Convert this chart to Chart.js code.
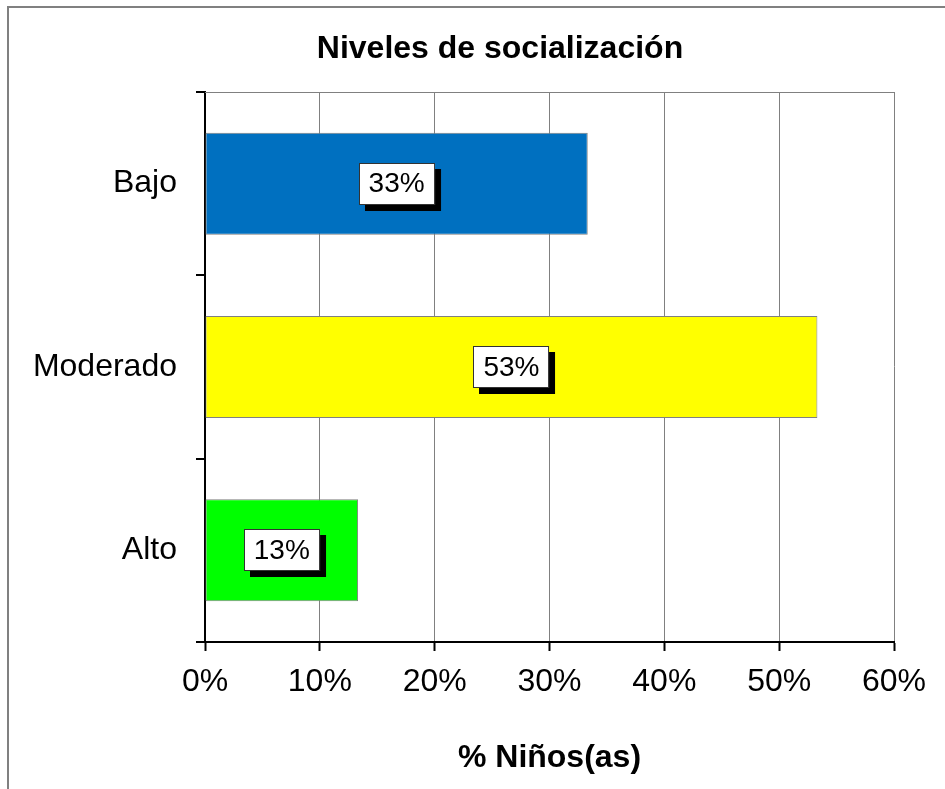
<!DOCTYPE html>
<html>
<head>
<meta charset="utf-8">
<script src="https://cdn.jsdelivr.net/npm/chart.js@4/dist/chart.umd.min.js"></script>
<style>
  html, body { margin: 0; padding: 0; background: #fff; overflow: hidden; }
  #rand { position: absolute; left: 7px; top: 6px; width: 2000px; height: 2000px;
          border-left: 2px solid #808080; border-top: 2px solid #808080; }
  #grafiek { position: absolute; left: 0; top: 0; }
</style>
</head>
<body>
<div id="rand"></div>
<!-- canvas is breder dan het venster: de grafiek is rechts afgesneden -->
<canvas id="grafiek" width="1000" height="789"></canvas>
<script>
// data van de grafiek
var categorieen = ['Bajo', 'Moderado', 'Alto'];
var waarden = [33.33, 53.33, 13.33];        // % niños(as)
var kleuren = ['#0070C0', '#FFFF00', '#00FF00'];
var xTicks = [0, 10, 20, 30, 40, 50, 60];   // labels op de x-as in %

var lettertype = '"Liberation Sans", Arial, sans-serif';

// plugin voor de grijze bovenrand van het plotgebied
var bovenRand = {
    id: 'bovenRand',
    beforeDatasetsDraw: function (chart) {
        var ctx = chart.ctx, a = chart.chartArea;
        ctx.save();
        ctx.strokeStyle = '#808080';
        ctx.lineWidth = 1;
        ctx.beginPath();
        ctx.moveTo(a.left, a.top + 0.5);
        ctx.lineTo(a.right, a.top + 0.5);
        ctx.stroke();
        ctx.restore();
    }
};

// plugin voor de labels in een wit kader met schaduw
var labelKaders = {
    id: 'labelKaders',
    afterDatasetsDraw: function (chart) {
        var ctx = chart.ctx;
        var meta = chart.getDatasetMeta(0);
        ctx.save();
        ctx.font = '28px ' + lettertype;
        ctx.textAlign = 'center';
        ctx.textBaseline = 'middle';
        meta.data.forEach(function (bar, i) {
            var tekst = Math.round(waarden[i]) + '%';
            var cx = (bar.x + bar.base) / 2;
            var cy = bar.y;
            var w = ctx.measureText(tekst).width + 20;
            var h = 42;
            var x0 = Math.round(cx - w / 2), y0 = Math.round(cy - h / 2);
            // schaduw
            ctx.fillStyle = '#000';
            ctx.fillRect(x0 + 6, y0 + 6, w, h);
            // kader
            ctx.fillStyle = '#fff';
            ctx.fillRect(x0, y0, w, h);
            ctx.strokeStyle = '#333';
            ctx.lineWidth = 1;
            ctx.strokeRect(x0 + 0.5, y0 + 0.5, w - 1, h - 1);
            ctx.fillStyle = '#000';
            ctx.fillText(tekst, cx, cy + 1);
        });
        ctx.restore();
    }
};

var chart = new Chart(document.getElementById('grafiek'), {
    type: 'bar',
    data: {
        labels: categorieen,
        datasets: [{
            data: waarden,
            backgroundColor: kleuren,
            borderColor: '#808080',
            borderWidth: 1,
            borderSkipped: false,
            barPercentage: 0.556,
            categoryPercentage: 1.0
        }]
    },
    options: {
        indexAxis: 'y',
        responsive: false,
        animation: false,
        events: [],
        layout: { padding: 0 },
        plugins: {
            legend: { display: false },
            tooltip: { enabled: false },
            title: {
                display: true,
                text: 'Niveles de socialización',
                color: '#000',
                font: { family: lettertype, size: 32, weight: 'bold', lineHeight: 1.2 },
                padding: { top: 30, bottom: 23.6 }
            }
        },
        scales: {
            x: {
                min: 0,
                max: 60,
                afterBuildTicks: function (scale) {
                    scale.ticks = xTicks.map(function (v) { return { value: v }; });
                },
                afterFit: function (scale) { scale.height = 147; },
                ticks: {
                    color: '#000',
                    padding: 12,
                    font: { family: lettertype, size: 32 },
                    callback: function (v) { return v + '%'; }
                },
                grid: {
                    color: function (c) { return c.index === 0 ? 'rgba(0,0,0,0)' : '#808080'; },
                    lineWidth: 1,
                    tickColor: '#000',
                    tickWidth: 2,
                    tickLength: 9
                },
                border: { color: '#000', width: 2 },
                title: {
                    display: true,
                    text: '% Niños(as)',
                    color: '#000',
                    font: { family: lettertype, size: 32, weight: 'bold', lineHeight: 1.2 },
                    padding: { top: 10, bottom: 12 }
                }
            },
            y: {
                afterFit: function (scale) { scale.width = 205; },
                ticks: {
                    color: '#000',
                    padding: 19,
                    font: { family: lettertype, size: 32 }
                },
                grid: {
                    drawOnChartArea: false,
                    offset: true,
                    color: '#000',
                    lineWidth: 2,
                    tickLength: 9
                },
                border: { color: '#000', width: 2 }
            },
            // lege as rechts, alleen voor de ruimte naast het plotgebied
            yRuimte: {
                axis: 'y',
                position: 'right',
                afterFit: function (scale) { scale.width = 106; },
                ticks: { display: false },
                grid: { display: false },
                border: { display: false }
            }
        }
    },
    plugins: [bovenRand, labelKaders]
});
</script>
</body>
</html>
